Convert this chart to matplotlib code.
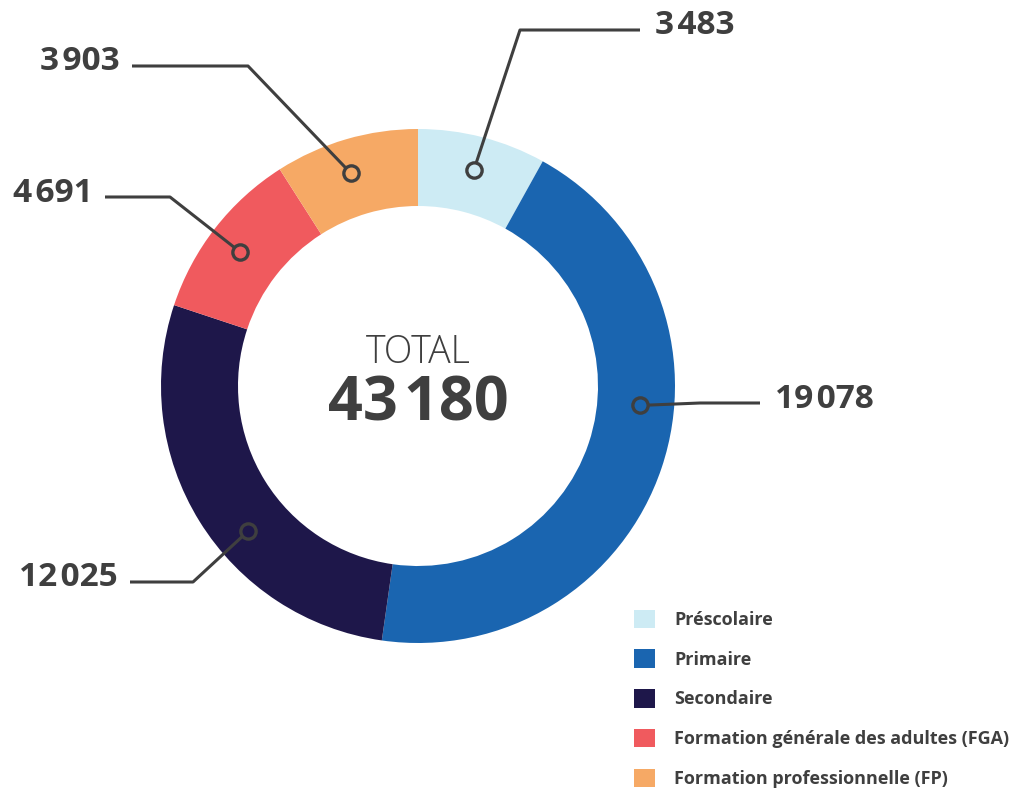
import numpy as np
import matplotlib.pyplot as plt

# data
categories = ["Préscolaire", "Primaire", "Secondaire",
              "Formation générale des adultes (FGA)", "Formation professionnelle (FP)"]
values = [3483, 19078, 12025, 4691, 3903]
colors = ["#CDEBF4", "#1A65B0", "#1E174A", "#F05A5E", "#F6A965"]
total = sum(values)

TXT = "#3F3F3F"
FONT = ["Open Sans", "DejaVu Sans"]


def fmt(v):
    # french style thousands separator (hair space)
    return f"{v:,}".replace(",", "\u200a")


fig = plt.figure(figsize=(10.22, 7.90), dpi=100)
ax = fig.add_axes([0, 0, 1, 1])

cx, cy, R, W = 418, 404, 257, 77
wedges, _ = ax.pie(values, colors=colors, startangle=90, counterclock=False,
                   radius=R, center=(cx, cy), frame=True,
                   wedgeprops=dict(width=W, linewidth=0))
ax.set_xlim(0, 1022)
ax.set_ylim(0, 790)
ax.axis("off")

# callouts: marker angle, elbow point, end point
marker_ang = [75.5, -5, -139.5, 143, 107.5]
elbows = [(520, 760), (700, 387), (193, 208), (170, 593), (248, 724)]
ends = [(640, 760), (760, 387), (130, 208), (105, 593), (132, 724)]
rm = 223
for i, v in enumerate(values):
    a = np.deg2rad(marker_ang[i])
    mx, my = cx + rm * np.cos(a), cy + rm * np.sin(a)
    ex, ey = elbows[i]
    tx, ty = ends[i]
    ax.plot([mx, ex, tx], [my, ey, ty], color=TXT, lw=2.2, zorder=3,
            solid_capstyle="butt")
    ax.plot(mx, my, "o", ms=11, mfc=colors[i], mec=TXT, mew=2.4, zorder=4)
    if tx > cx:
        ax.text(tx + 15, ty + 4, fmt(v), ha="left", va="center", fontsize=24,
                fontweight="bold", color=TXT, family=FONT)
    else:
        ax.text(tx - 12, ty + 4, fmt(v), ha="right", va="center", fontsize=24,
                fontweight="bold", color=TXT, family=FONT)

ax.text(cx, cy + 33, "TOTAL", ha="center", va="center", fontsize=27,
        fontweight="light", color=TXT, family=FONT)
ax.text(cx, cy - 19, fmt(total), ha="center", va="center", fontsize=44,
        fontweight="bold", color=TXT, family=FONT)

leg = fig.legend(wedges, categories, loc="upper left", bbox_to_anchor=(0.604, 0.249),
                 frameon=False, handlelength=1.2, handleheight=1.2,
                 handletextpad=1.05, labelspacing=1.13,
                 prop=dict(family=FONT, weight="bold", size=13))
for t in leg.get_texts():
    t.set_color(TXT)

fig.savefig("out.png", dpi=100)
